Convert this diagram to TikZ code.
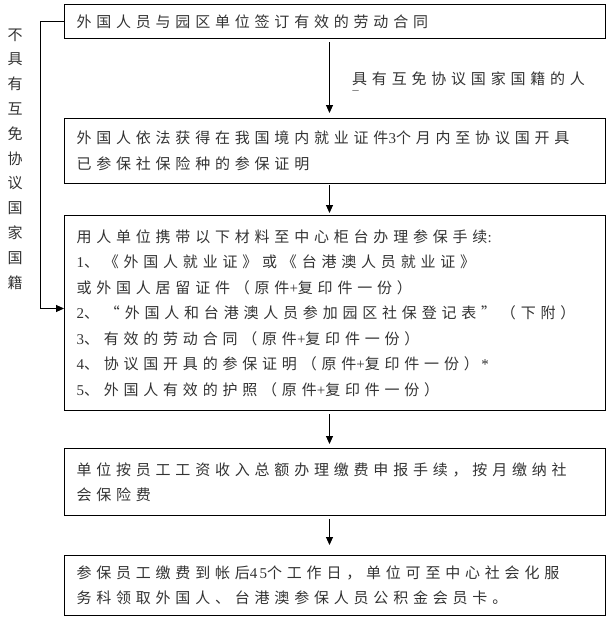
\documentclass[tikz,border=0pt]{standalone}
\usepackage{fontspec}
\usetikzlibrary{arrows.meta}
\newfontfamily\cjk[LetterSpace=32]{Noto Sans CJK SC}
\newfontfamily\cjkplain{Noto Sans CJK SC}
\newfontfamily\lat[LetterSpace=15]{Liberation Serif}
\begin{document}
\begin{tikzpicture}[x=1pt,y=-1pt,
  box/.style={draw, line width=1pt, minimum width=541pt, anchor=north west,
    align=left, text width=517pt, inner xsep=12pt, inner ysep=0pt,
    font=\cjk\fontsize{15}{25.5}\selectfont, text=black!80},
  arr/.style={-{Triangle[length=8pt,width=7pt]}, line width=0.9pt},
  lbl/.style={inner sep=0pt, text=black!80}]
\useasboundingbox (0,0) rectangle (609,621);
\node[box, minimum height=34pt] (b1) at (64,4) {外国人员与园区单位签订有效的劳动合同};
\node[box, minimum height=65pt] (b2) at (64,118) {外国人依法获得在我国境内就业证件{\lat 3}个月内至协议国开具\\已参保社保险种的参保证明};
\node[box, minimum height=195pt] (b3) at (64,215) {用人单位携带以下材料至中心柜台办理参保手续{\lat :}\\
{\lat 1}、《外国人就业证》或《台港澳人员就业证》\\
或外国人居留证件（原件{\lat +}复印件一份）\\
{\lat 2}、\hspace{6pt}“外国人和台港澳人员参加园区社保登记表”（下附）\\
{\lat 3}、有效的劳动合同（原件{\lat +}复印件一份）\\
{\lat 4}、协议国开具的参保证明（原件{\lat +}复印件一份）\,{\lat *}\\
{\lat 5}、外国人有效的护照（原件{\lat +}复印件一份）};
\node[box, minimum height=67pt] (b4) at (64,448) {单位按员工工资收入总额办理缴费申报手续，按月缴纳社\\会保险费};
\node[box, minimum height=60pt] (b5) at (64,555) {参保员工缴费到帐后{\lat 45}个工作日，单位可至中心社会化服\\务科领取外国人、台港澳参保人员公积金会员卡。};
\node[lbl, anchor=west, font=\cjk\fontsize{15}{16}\selectfont] (lab) at (352,79) {具有互免协议国家国籍的人};
\node[lbl, anchor=north west, font=\cjkplain\fontsize{7}{8}\selectfont] (lab2) at (352,90.5) {一};
\node[lbl, align=center, font=\cjkplain\fontsize{15}{24.8}\selectfont] (side) at (15,159) {不\\具\\有\\互\\免\\协\\议\\国\\家\\国\\籍};
\draw[arr, shorten <=3pt, shorten >=5pt] ([xshift=-5.5pt]b1.south) -- ([xshift=-5.5pt]b2.north);
\draw[arr, shorten <=1pt, shorten >=2pt] ([xshift=-5.5pt]b2.south) -- ([xshift=-5.5pt]b3.north);
\draw[arr, shorten <=3pt, shorten >=4pt] ([xshift=-5.5pt]b3.south) -- ([xshift=-5.5pt]b4.north);
\draw[arr, shorten <=3pt, shorten >=10pt] ([xshift=-5.5pt]b4.south) -- ([xshift=-5.5pt]b5.north);
\draw[arr] (b1.west) -- ++(-23.5,0) |- ([yshift=4.5pt]b3.west);
\end{tikzpicture}
\end{document}
